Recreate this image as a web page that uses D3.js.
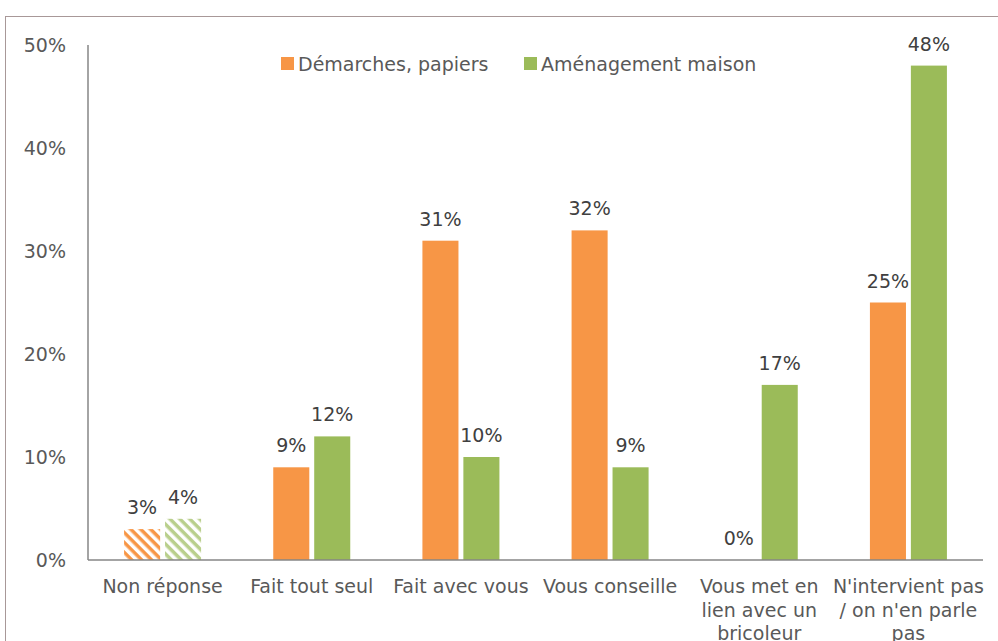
<!DOCTYPE html>
<html><head><meta charset="utf-8">
<script src="https://cdn.jsdelivr.net/npm/d3@7"></script>
<style>body{margin:0;background:#fff;} svg{display:block;}</style>
</head><body>
<svg id="c" width="998" height="641"></svg>
<script>
const categories = ["Non réponse","Fait tout seul","Fait avec vous","Vous conseille","Vous met en lien avec un bricoleur","N'intervient pas / on n'en parle pas"];
const seriesNames = ["Démarches, papiers","Aménagement maison"];
const demarches = [3,9,31,32,0,25];
const amenagement = [4,12,10,9,17,48];
const yTicks = [0,10,20,30,40,50];
const colors = ["#F79646","#9BBB59"];

(function(){
const svg = d3.select("#c");
const font = "DejaVu Sans, Verdana, sans-serif";
const fs = 19;
const pLeft = 88, pRight = 983, pTop = 45, pBottom = 560;

svg.append("rect").attr("x",5.5).attr("y",16.5).attr("width",1010).attr("height",700)
  .attr("fill","none").attr("stroke","#a89898").attr("stroke-width",1);

const defs = svg.append("defs");
function hatch(id, col, bg){
  const p = defs.append("pattern").attr("id",id).attr("patternUnits","userSpaceOnUse")
    .attr("width",7).attr("height",7).attr("patternTransform","rotate(45)");
  p.append("rect").attr("width",7).attr("height",7).attr("fill",bg);
  p.append("rect").attr("x",0).attr("y",0).attr("width",7).attr("height",3.5).attr("fill",col);
}
hatch("h0", colors[0], "#fff");
hatch("h1", "#b9cf8c", "#fff");

const x0 = d3.scaleBand().domain(categories).range([pLeft,pRight]).padding(0);
const x1 = d3.scaleBand().domain(seriesNames).range([0,77]).paddingInner(0.12);
const y = d3.scaleLinear().domain([0,50]).range([pBottom,pTop]);

svg.append("g").selectAll("text").data(yTicks).join("text")
  .attr("x",66).attr("y",d=>y(d)).attr("dy","0.35em").attr("text-anchor","end")
  .attr("font-family",font).attr("font-size",fs).attr("fill","#595959")
  .text(d=>d+"%");

svg.append("line").attr("x1",pLeft).attr("x2",pLeft).attr("y1",pTop).attr("y2",pBottom)
  .attr("stroke","#868686").attr("stroke-width",1.5);

const data = categories.map((c,i)=>({cat:c, vals:[demarches[i], amenagement[i]]}));

const g = svg.append("g");
data.forEach((d,i)=>{
  const cx = x0(d.cat) + x0.bandwidth()/2 - 38.5;
  d.vals.forEach((v,j)=>{
    const bx = cx + x1(seriesNames[j]);
    const fill = i===0 ? `url(#h${j})` : colors[j];
    if(v>0) g.append("rect").attr("x",bx).attr("y",y(v)).attr("width",x1.bandwidth())
      .attr("height",y(0)-y(v)).attr("fill",fill);
    g.append("text").attr("x",bx + x1.bandwidth()/2).attr("y",y(v)-15)
      .attr("text-anchor","middle").attr("font-family",font).attr("font-size",fs)
      .attr("fill","#404040").text(v+"%");
  });
});

svg.append("line").attr("x1",pLeft).attr("x2",pRight).attr("y1",pBottom).attr("y2",pBottom)
  .attr("stroke","#868686").attr("stroke-width",1.5);

const wrapMap = {
  "Vous met en lien avec un bricoleur":["Vous met en","lien avec un","bricoleur"],
  "N'intervient pas / on n'en parle pas":["N'intervient pas","/ on n'en parle","pas"]
};
categories.forEach(c=>{
  const lines = wrapMap[c] || [c];
  const t = svg.append("text").attr("text-anchor","middle").attr("font-family",font)
    .attr("font-size",fs).attr("fill","#595959");
  lines.forEach((l,k)=>{
    t.append("tspan").attr("x",x0(c)+x0.bandwidth()/2).attr("y",593+k*23.5).text(l);
  });
});

const leg = svg.append("g");
const legX = [281,524];
seriesNames.forEach((s,j)=>{
  leg.append("rect").attr("x",legX[j]).attr("y",57).attr("width",13).attr("height",13).attr("fill",colors[j]);
  leg.append("text").attr("x",legX[j]+17).attr("y",64).attr("dy","0.35em")
    .attr("font-family",font).attr("font-size",fs).attr("fill","#595959").text(s);
});
})();
</script>
</body></html>
